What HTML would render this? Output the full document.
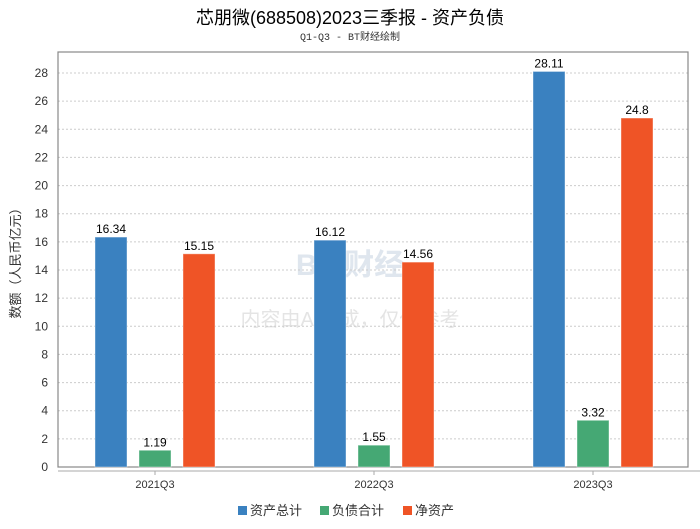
<!DOCTYPE html>
<html><head><meta charset="utf-8"><style>
body{margin:0;background:#fff;font-family:"Liberation Sans","Noto Sans CJK SC",sans-serif}
</style></head><body>
<svg width="700" height="524" xmlns="http://www.w3.org/2000/svg" font-family="Liberation Sans, Noto Sans CJK SC, sans-serif">
<text x="350" y="24" text-anchor="middle" font-size="18" fill="#000">芯朋微(688508)2023三季报 - 资产负债</text>
<text x="350" y="40" text-anchor="middle" font-size="10" fill="#333" font-family="Liberation Mono, Noto Sans CJK SC, monospace">Q1-Q3 - BT财经绘制</text>
<text x="350" y="275" text-anchor="middle" font-size="30" font-weight="bold" fill="#dfe6ee">BT 财经</text>
<text x="350" y="326" text-anchor="middle" font-size="20" fill="#e4e4e4">内容由AI生成，仅供参考</text>
<g id="grid"></g>
<rect x="58" y="52" width="630" height="415" fill="none" stroke="#888" stroke-width="1.2"/>
<line x1="58" y1="471" x2="700" y2="471" stroke="#aaa"/>
<text transform="translate(20,260) rotate(-90)" text-anchor="middle" font-size="13" fill="#333">数额（人民币亿元）</text>
<g id="bars"></g>
<g font-size="13" fill="#333">
<rect x="238" y="506" width="9" height="9" fill="#3a81c0"/>
<text x="250" y="515">资产总计</text>
<rect x="320" y="506" width="9" height="9" fill="#45a874"/>
<text x="332" y="515">负债合计</text>
<rect x="403" y="506" width="9" height="9" fill="#ef5426"/>
<text x="415" y="515">净资产</text>
</g>
</svg>
<script>
const categories=["2021Q3","2022Q3","2023Q3"];
const assets=[16.34,16.12,28.11];
const liabilities=[1.19,1.55,3.32];
const equity=[15.15,14.56,24.8];
const yTicks=[0,2,4,6,8,10,12,14,16,18,20,22,24,26,28];
const NS="http://www.w3.org/2000/svg";
const y=v=>467-v*(394/28);
const xc=i=>155+i*219;
const grid=document.getElementById('grid'),bars=document.getElementById('bars');
function mk(tag,attrs,parent){const e=document.createElementNS(NS,tag);for(const k in attrs)e.setAttribute(k,attrs[k]);parent.appendChild(e);return e;}
yTicks.forEach(t=>{
 const l=mk('line',{x1:58,x2:688,y1:y(t),y2:y(t),stroke:'#ccc','stroke-dasharray':'2,2'},grid);
 
 
 const tx=mk('text',{x:48,y:y(t)+4,'text-anchor':'end','font-size':12,fill:'#333'},grid);
 tx.textContent=t;
 
 
});
const series=[[assets,'#3a81c0',-44,'assets'],[liabilities,'#45a874',0,'liabilities'],[equity,'#ef5426',44,'equity']];
categories.forEach((c,i)=>{
 const tk=mk('line',{x1:xc(i),x2:xc(i),y1:471,y2:475,stroke:'#aaa'},bars);
 
 
 const lb=mk('text',{x:xc(i),y:488,'text-anchor':'middle','font-size':11,fill:'#333'},bars);
 lb.textContent=c;
 
 
 series.forEach(([vals,col,off,nm])=>{
  const v=vals[i],x=xc(i)+off-16;
  const r=mk('rect',{x:x,y:y(v),width:32,height:467-y(v),fill:col,stroke:'#fff','stroke-opacity':0.4},bars);
  
  
  const t=mk('text',{x:x+16,y:y(v)-4,'text-anchor':'middle','font-size':12,fill:'#000'},bars);
  t.textContent=v;
  
  
 });
});
</script>
</body></html>
